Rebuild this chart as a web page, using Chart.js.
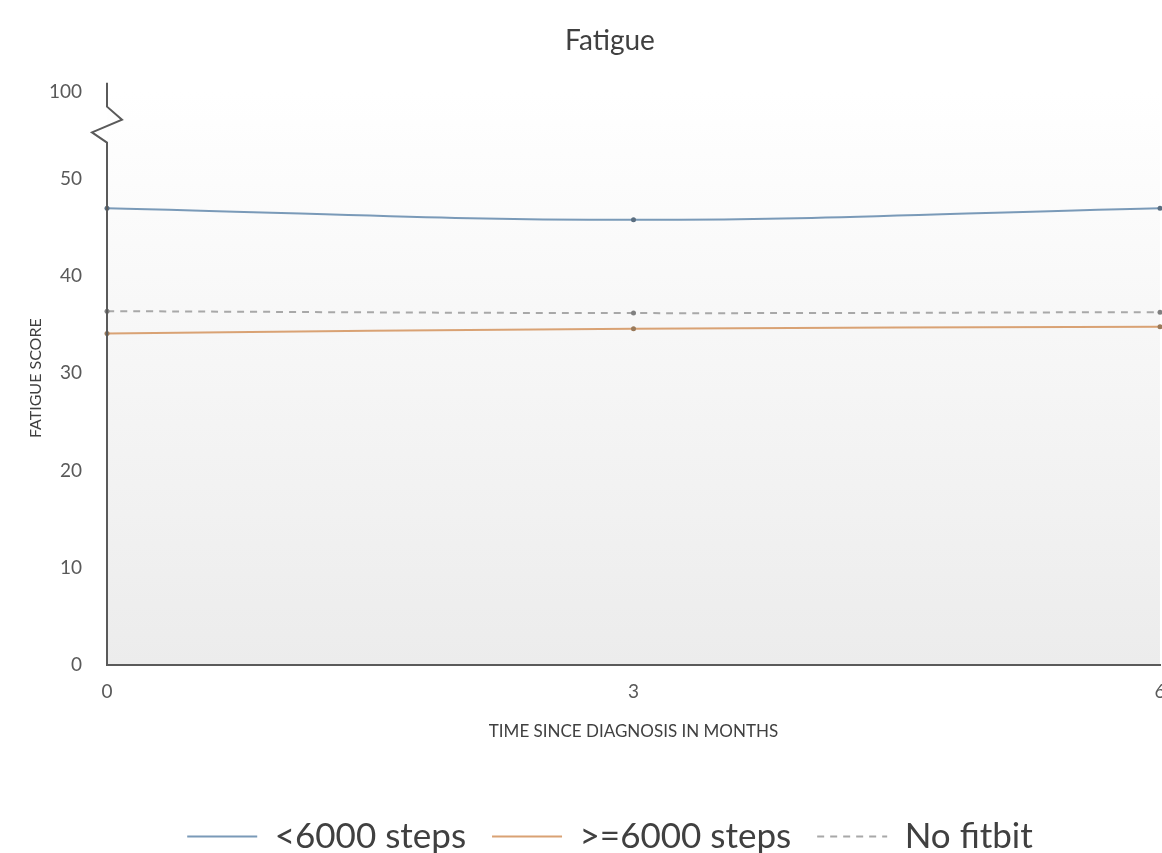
<!DOCTYPE html>
<html>
<head>
<meta charset="utf-8">
<script src="https://cdn.jsdelivr.net/npm/chart.js@4"></script>
<style>
  html, body { margin: 0; padding: 0; background: #fff; overflow: hidden; }
  #wrap { width: 1200px; height: 864px; }
</style>
</head>
<body>
<div id="wrap"><canvas id="fatigue"></canvas></div>
<script>
// Fatigue score by time since diagnosis

const months = ['0', '3', '6'];
const lowSteps = [47.0, 45.8, 47.0];
const highSteps = [34.1, 34.6, 34.8];
const noFitbit = [36.4, 36.2, 36.3];

// broken axis: the top tick sits above the break and reads 100
const yTickValues = [0, 10, 20, 30, 40, 50, 59];
const yTickLabels = ['0', '10', '20', '30', '40', '50', '100'];

const fontFam = "Lato, 'Open Sans', sans-serif";

// plot area fill, white fading to light grey
const areaFill = {
  id: 'areaFill',
  beforeDraw(chart) {
    const a = chart.chartArea, ctx = chart.ctx;
    const g = ctx.createLinearGradient(0, a.top, 0, a.bottom);
    g.addColorStop(0, '#ffffff');
    g.addColorStop(1, '#ececec');
    ctx.save();
    ctx.fillStyle = g;
    ctx.fillRect(a.left, a.top, a.right - a.left, a.bottom - a.top);
    ctx.restore();
  }
};

// y axis line with the zigzag break
const brokenAxis = {
  id: 'brokenAxis',
  afterDraw(chart) {
    const y = chart.scales.y, a = chart.chartArea, ctx = chart.ctx;
    const L = a.left;
    ctx.save();
    ctx.strokeStyle = '#5a5a5a';
    ctx.lineWidth = 2;
    ctx.lineJoin = 'miter';
    ctx.beginPath();
    ctx.moveTo(L, y.getPixelForValue(59.9));
    ctx.lineTo(L, y.getPixelForValue(57.45));
    ctx.lineTo(L + 15, y.getPixelForValue(56.1));
    ctx.lineTo(L - 15, y.getPixelForValue(54.8));
    ctx.lineTo(L, y.getPixelForValue(53.75));
    ctx.lineTo(L, a.bottom);
    ctx.stroke();
    ctx.restore();
  }
};

new Chart(document.getElementById('fatigue'), {
  type: 'line',
  data: {
    labels: months,
    datasets: [
      {
        label: '<6000 steps',
        data: lowSteps,
        borderColor: '#7a9ab8',
        backgroundColor: '#7a9ab8',
        borderWidth: 2,
        pointRadius: 2.5,
        pointBackgroundColor: '#5a6e80',
        pointBorderWidth: 0,
        tension: 0.4
      },
      {
        label: '>=6000 steps',
        data: highSteps,
        borderColor: '#d9a274',
        backgroundColor: '#d9a274',
        borderWidth: 2,
        pointRadius: 2.5,
        pointBackgroundColor: '#9a7a5a',
        pointBorderWidth: 0,
        tension: 0.4
      },
      {
        label: 'No fitbit',
        data: noFitbit,
        borderColor: '#a8a8a8',
        backgroundColor: '#a8a8a8',
        borderWidth: 2,
        borderDash: [7, 6],
        pointRadius: 2.5,
        pointBackgroundColor: '#808080',
        pointBorderWidth: 0,
        tension: 0.4
      }
    ]
  },
  options: {
    responsive: true,
    maintainAspectRatio: false,
    animation: false,
    layout: { padding: { left: 20, right: 0, top: 0, bottom: 0 } },
    plugins: {
      title: {
        display: true,
        text: 'Fatigue',
        color: '#404040',
        font: { family: fontFam, size: 28, weight: 'normal' },
        padding: { top: 24, bottom: 34 }
      },
      legend: {
        position: 'bottom',
        labels: {
          usePointStyle: true,
          pointStyle: 'line',
          pointStyleWidth: 70,
          color: '#404040',
          font: { family: fontFam, size: 35 },
          padding: 26,
          generateLabels(chart) {
            const items = Chart.defaults.plugins.legend.labels.generateLabels(chart);
            items.forEach((it, i) => {
              const ds = chart.data.datasets[i];
              it.strokeStyle = ds.borderColor;
              it.lineWidth = 2;
              it.lineDash = ds.borderDash || [];
            });
            return items;
          }
        }
      },
      tooltip: { enabled: false }
    },
    scales: {
      x: {
        grid: { display: false },
        border: { display: true, color: '#5a5a5a', width: 2 },
        ticks: { color: '#595959', font: { family: fontFam, size: 19 }, padding: 8 },
        title: {
          display: true,
          text: 'TIME SINCE DIAGNOSIS IN MONTHS',
          color: '#404040',
          font: { family: fontFam, size: 17 },
          padding: { top: 10, bottom: 51 }
        }
      },
      y: {
        min: 0,
        max: 59,
        grid: { display: false },
        border: { display: false },
        afterBuildTicks(scale) {
          scale.ticks = yTickValues.map(v => ({ value: v }));
        },
        afterFit(scale) { scale.width = 87; },
        ticks: {
          color: '#595959',
          font: { family: fontFam, size: 19 },
          padding: 17,
          callback: (v) => yTickLabels[yTickValues.indexOf(v)]
        },
        title: {
          display: true,
          text: 'FATIGUE SCORE',
          color: '#404040',
          font: { family: fontFam, size: 16 },
          padding: { top: 6, bottom: 5 }
        }
      },
      // empty strip on the right so the plot runs to the page edge
      yr: {
        position: 'right',
        display: true,
        grid: { display: false },
        border: { display: false },
        ticks: { display: false },
        afterFit(scale) { scale.width = 40; }
      }
    }
  },
  plugins: [areaFill, brokenAxis]
});
</script>
</body>
</html>
